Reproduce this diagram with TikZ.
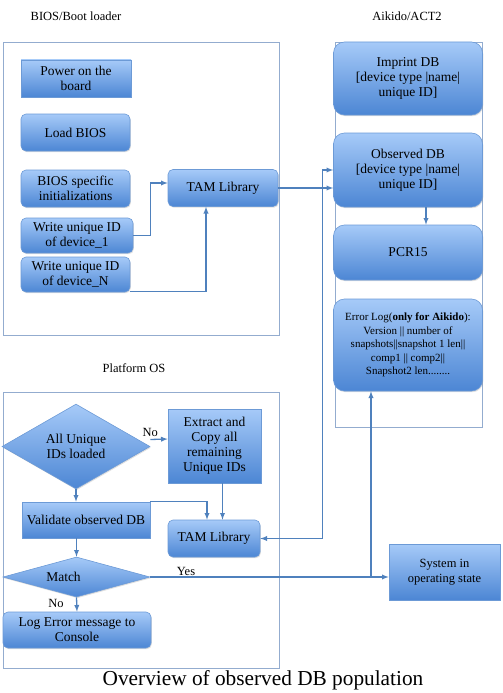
\documentclass[tikz,border=0pt]{standalone}
\usepackage{fontspec}
\setmainfont{Liberation Serif}
\usetikzlibrary{arrows, shapes.geometric, shadows}
\definecolor{boxtop}{HTML}{A6CAF8}
\definecolor{boxbot}{HTML}{4C86D4}
\definecolor{boxline}{HTML}{6C9AD6}
\definecolor{wire}{HTML}{4F81BD}
\definecolor{frame}{HTML}{93ACCF}
\tikzset{
  blk/.style={draw=boxline, line width=0.6pt, top color=boxtop, bottom color=boxbot,
    drop shadow={opacity=0.25, shadow xshift=0.8pt, shadow yshift=-1.2pt},
    align=center, inner sep=1pt, font=\fontsize{13.5}{15}\selectfont},
  rblk/.style={blk, rounded corners=5pt},
  bigblk/.style={blk, rounded corners=11pt},
  dec/.style={blk, diamond, inner sep=0pt},
  wirearr/.style={draw=wire, line width=1.3pt, -latex},
  zone/.style={draw=frame, line width=0.8pt},
  lbl/.style={font=\fontsize{12.5}{14}\selectfont}
}
\begin{document}
\begin{tikzpicture}[x=1pt, y=-1pt]
		\useasboundingbox (0,0) rectangle (503,693);
		% zones
		\draw [zone] (3,42) rectangle (279,335);
		\draw [zone] (335,42) rectangle (482,427);
		\draw [zone] (3,392) rectangle (279,668);
		\node [lbl] (tbios) at (76,16) {BIOS/Boot loader};
		\node [lbl] (tact) at (407,16) {Aikido/ACT2};
		\node [lbl] (tos) at (134,368) {Platform OS};
		% BIOS side
		\node [blk, minimum width=110pt, minimum height=37pt] (pwr) at (76,78.5) {Power on the\\board};
		\node [rblk, minimum width=109pt, minimum height=37pt] (ldb) at (75.5,132.5) {Load BIOS};
		\node [rblk, minimum width=109pt, minimum height=37pt] (bsi) at (75.5,188.5) {BIOS specific\\initializations};
		\node [rblk, minimum width=112pt, minimum height=35pt] (wr1) at (77,235.5) {Write unique ID\\of device\_1};
		\node [rblk, minimum width=109pt, minimum height=35pt] (wrn) at (75.5,274.5) {Write unique ID\\of device\_N};
		\node [rblk, minimum width=110pt, minimum height=37pt] (tama) at (223,188) {TAM Library};
		% Aikido side
		\node [bigblk, minimum width=149pt, minimum height=73pt] (imp) at (408,78.5) {Imprint DB\\{[}device type |name|\\unique ID{]}};
		\node [bigblk, minimum width=149pt, minimum height=74pt] (obs) at (408,170) {Observed DB\\{[}device type |name|\\unique ID{]}};
		\node [bigblk, minimum width=149pt, minimum height=55pt] (pcr) at (408,252.5) {PCR15};
		\node [bigblk, minimum width=149pt, minimum height=92pt, font=\fontsize{11}{13.5}\selectfont] (err) at (408,345)
			{Error Log(\textbf{only for Aikido}):\\Version || number of\\snapshots||snapshot 1 len||\\comp1 || comp2||\\Snapshot2 len........};
		\node [blk, minimum width=111pt, minimum height=56pt, font=\fontsize{12.5}{14.5}\selectfont] (sys) at (444.5,572) {System in\\operating state};
		% Platform OS side
		\node [dec, minimum width=148pt, minimum height=73pt] (allid) at (76,446.5) {All Unique\\IDs loaded};
		\node [blk, minimum width=93pt, minimum height=74pt] (ext) at (214.5,446) {Extract and\\Copy all\\remaining\\Unique IDs};
		\node [blk, minimum width=128pt, minimum height=36pt] (val) at (86,520) {Validate observed DB};
		\node [rblk, minimum width=92pt, minimum height=37pt] (tamb) at (214,538.5) {TAM Library};
		\node [dec, minimum width=147pt, minimum height=40pt] (mat) at (76.5,577) {\hspace*{-26pt}Match};
		\node [rblk, minimum width=148pt, minimum height=36pt] (log) at (77,630) {Log Error message to\\Console};
		\coordinate (yj) at (371,577);
		% connectors
		\draw [wirearr] (wr1.east) -- ++(17,0) |- ([yshift=5pt]tama.west);
		\draw [wirearr] ([yshift=1pt]wrn.south east) -| ([xshift=-17pt]tama.south);
		\draw [wirearr] (tama.east) -- (tama.east -| obs.west);
		\draw [wirearr, latex-latex] (tamb.east) -- ++(62,0) |- (obs.west);
		\draw [wirearr] ([xshift=18pt]obs.south) -- ([xshift=18pt]pcr.north);
		\draw [wirearr] ([yshift=7pt]allid.east) -- ([yshift=7pt]ext.west)
			node [lbl, pos=0, above, inner sep=2pt] (nolbl) {No};
		\draw [wirearr] (allid.south) -- (allid.south |- val.north);
		\draw [wirearr] (val.north east) -| ([xshift=-7pt]tamb.north);
		\draw [wirearr] ([xshift=8pt]ext.south) -- ([xshift=8pt]ext.south |- tamb.north);
		\draw [wirearr] (mat.north |- val.south) -- (mat.north);
		\draw [wirearr] (mat.south) -- (log.north)
			node [lbl, pos=0.4, left=9pt] (nolbl2) {No};
		\draw [wirearr] (mat.east) -- (mat.east -| sys.west)
			node [lbl, pos=0.15, above, inner sep=1pt] (yeslbl) {Yes};
		\draw [wirearr] (yj) -- (yj |- err.south);
		\node [font=\fontsize{21.3}{25}\selectfont] (cap) at (263,680) {Overview of observed DB population};
\end{tikzpicture}
\end{document}
